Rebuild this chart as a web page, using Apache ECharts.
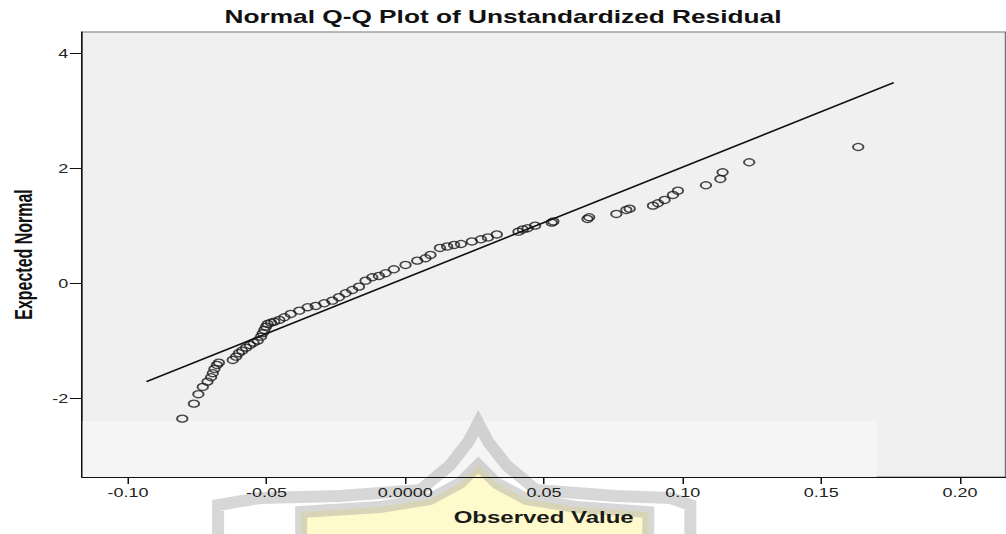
<!DOCTYPE html>
<html>
<head>
<meta charset="utf-8">
<script src="https://cdn.jsdelivr.net/npm/echarts@6/dist/echarts.min.js"></script>
<style>
  html, body { margin: 0; padding: 0; background: #fff; }
  #wrap { width: 1006px; height: 534px; overflow: hidden; position: relative; }
  #qq { position: absolute; left: 0; top: 0; transform-origin: 0 0; }
</style>
</head>
<body>
<div id="wrap"><div id="qq"></div></div>
<script>
// the source picture is stretched sideways, so draw narrow and widen
var SX = 1.5;
var W = 1006 / SX;

var observed = [
  -0.0804, -0.0762, -0.0746, -0.0730, -0.0713, -0.0700, -0.0694, -0.0688, -0.0679, -0.0672,
  -0.0622, -0.0610, -0.0600, -0.0588, -0.0574, -0.0560, -0.0547, -0.0532, -0.0520, -0.0514,
  -0.0508, -0.0502, -0.0496, -0.0484, -0.0472, -0.0454, -0.0436, -0.0413, -0.0382, -0.0352,
  -0.0323, -0.0292, -0.0263, -0.0239, -0.0215, -0.0191, -0.0167, -0.0143, -0.0119, -0.0095,
  -0.0071, -0.0041, 0.0001, 0.0043, 0.0073, 0.0091, 0.0125, 0.0151, 0.0176, 0.0201,
  0.0240, 0.0273, 0.0298, 0.0330, 0.0408, 0.0424, 0.0441, 0.0468, 0.0528, 0.0534,
  0.0657, 0.0663, 0.0761, 0.0797, 0.0809, 0.0893, 0.0911, 0.0935, 0.0965, 0.0983,
  0.1084, 0.1136, 0.1144, 0.1240, 0.1633
];
var expected = [
  -2.355, -2.094, -1.930, -1.803, -1.711, -1.635, -1.565, -1.490, -1.421, -1.381,
  -1.334, -1.277, -1.217, -1.172, -1.120, -1.073, -1.033, -0.998, -0.929, -0.870,
  -0.812, -0.755, -0.708, -0.685, -0.668, -0.638, -0.591, -0.534, -0.477, -0.417,
  -0.395, -0.348, -0.303, -0.243, -0.174, -0.117, -0.059, 0.045, 0.104, 0.127,
  0.174, 0.243, 0.318, 0.393, 0.435, 0.492, 0.614, 0.640, 0.666, 0.683,
  0.727, 0.765, 0.797, 0.849, 0.897, 0.936, 0.957, 1.002, 1.054, 1.075,
  1.118, 1.148, 1.205, 1.275, 1.297, 1.350, 1.391, 1.449, 1.536, 1.610,
  1.704, 1.814, 1.930, 2.104, 2.370
];

// reference line end points
var refLineX = [-0.0933, 0.1761];
var refLineY = [-1.711, 3.489];

var xTicks = [-0.10, -0.05, 0, 0.05, 0.10, 0.15, 0.20];
var xTickLabels = ['-0.10', '-0.05', '0.0000', '0.05', '0.10', '0.15', '0.20'];
var yTicks = [-2, 0, 2, 4];
var yTickLabels = ['-2', '0', '2', '4'];

var xMin = -0.1166, xMax = 0.2164;
var yMin = -3.37, yMax = 4.37;

function pickLabel(ticks, labels, v) {
  for (var i = 0; i < ticks.length; i++) {
    if (Math.abs(ticks[i] - v) < 1e-9) return labels[i];
  }
  return '';
}

var points = observed.map(function (x, i) { return [x, expected[i]]; });
var line = refLineX.map(function (x, i) { return [x, refLineY[i]]; });

var font = '"Liberation Sans", Arial, sans-serif';

var el = document.getElementById('qq');
el.style.width = W + 'px';
el.style.height = '534px';
el.style.transform = 'scaleX(' + SX + ')';

var chart = echarts.init(el, null, { renderer: 'svg', width: W, height: 534 });

var grey = 'rgba(150,150,150,0.38)';

var option = {
  backgroundColor: '#ffffff',
  animation: false,
  title: {
    text: 'Normal Q-Q Plot of Unstandardized Residual',
    left: 'center',
    top: 3,
    textStyle: { fontFamily: font, fontSize: 17.5, fontWeight: 'bold', color: '#111' }
  },
  grid: {
    left: 78.5 / SX,
    right: 0.5 / SX,
    top: 32,
    bottom: 57,
    show: true,
    backgroundColor: '#f0f0f0',
    borderColor: '#777',
    borderWidth: 1
  },
  xAxis: {
    type: 'value',
    min: xMin,
    max: xMax,
    z: 4,
    name: 'Observed Value',
    nameLocation: 'middle',
    nameGap: 33,
    nameTextStyle: { fontFamily: font, fontSize: 16, fontWeight: 'bold', color: '#1a1a1a' },
    axisLine: { show: true, onZero: false, lineStyle: { color: '#111', width: 1 } },
    axisTick: { show: true, length: 7, customValues: xTicks, lineStyle: { color: '#111' } },
    axisLabel: {
      margin: 10,
      customValues: xTicks,
      fontFamily: font, fontSize: 12, color: '#222',
      formatter: function (v) { return pickLabel(xTicks, xTickLabels, v); }
    },
    splitLine: { show: false }
  },
  yAxis: {
    type: 'value',
    min: yMin,
    max: yMax,
    z: 4,
    name: 'Expected Normal',
    nameLocation: 'middle',
    nameGap: 30,
    nameTextStyle: { fontFamily: font, fontSize: 16, fontWeight: 'bold', color: '#111' },
    axisLine: { show: true, onZero: false, lineStyle: { color: '#111', width: 1 } },
    axisTick: { show: true, length: 8, customValues: yTicks, lineStyle: { color: '#111' } },
    axisLabel: {
      margin: 9,
      customValues: yTicks,
      fontFamily: font, fontSize: 12, color: '#222',
      formatter: function (v) { return pickLabel(yTicks, yTickLabels, v); }
    },
    splitLine: { show: false }
  },
  // faint watermark behind the x axis title
  graphic: [{
    type: 'group',
    scaleX: 1 / SX,
    silent: true,
    children: [
      {
        type: 'polygon',
        z: 3,
        shape: { points: [[301, 534], [301, 512], [380, 507], [430, 499], [460, 483], [478, 465],
                          [496, 483], [526, 499], [576, 507], [648, 512], [648, 534]] },
        style: { fill: 'rgba(255,243,130,0.42)' }
      },
      {
        type: 'polyline',
        z: 3,
        shape: { points: [[301, 534], [301, 512], [380, 507], [430, 499], [460, 483], [478, 465],
                          [496, 483], [526, 499], [576, 507], [648, 512], [648, 534]] },
        style: { fill: 'none', stroke: grey, lineWidth: 12 }
      },
      {
        type: 'polyline',
        z: 3,
        shape: { points: [[218, 534], [218, 505], [260, 498], [340, 496], [420, 490], [450, 465],
                          [468, 442], [478, 423], [488, 442], [506, 465], [536, 490], [616, 496],
                          [670, 498], [690, 505], [690, 534]] },
        style: { fill: 'none', stroke: grey, lineWidth: 12 }
      }
    ]
  }],
  series: [
    {
      type: 'scatter',
      data: points,
      symbol: 'circle',
      symbolSize: 7,
      itemStyle: { color: 'rgba(0,0,0,0)', borderColor: '#1a1a1a', borderWidth: 1.3 },
      markArea: {
        silent: true,
        itemStyle: { color: '#f5f5f5' },
        data: [[{ coord: [xMin, yMin] }, { coord: [0.1699, -2.395] }]]
      },
      z: 2
    },
    {
      type: 'line',
      data: line,
      symbol: 'none',
      lineStyle: { color: '#111', width: 1.5 },
      z: 3
    }
  ]
};
chart.setOption(option);
</script>
</body>
</html>
